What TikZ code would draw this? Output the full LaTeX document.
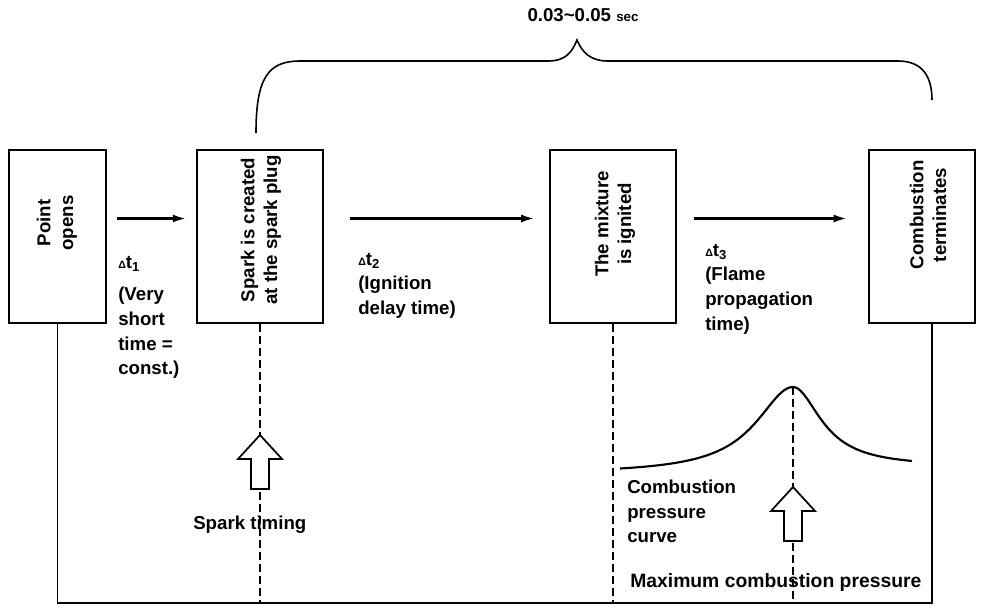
\documentclass[tikz,border=0pt]{standalone}
\usepackage{fontspec}
\setmainfont{Liberation Sans}
\usetikzlibrary{arrows.meta,calc}
\tikzset{
  >={Latex[length=10pt,width=6pt]},
  flow/.style={->,line width=1.8pt},
  procbox/.style={draw,line width=1.2pt,minimum width=94.5pt,minimum height=129.75pt,inner sep=0pt},
  boxtext/.style={rotate=90,align=center,font=\bfseries\fontsize{14}{17}\selectfont},
  note/.style={anchor=north west,align=left,inner sep=0pt,font=\bfseries\fontsize{14}{18.4}\selectfont},
  guide/.style={line width=1.2pt},
  markline/.style={line width=1pt,dash pattern=on 6pt off 3pt},
  hollow/.style={draw,fill=white,line width=1.3pt,line join=miter},
  hollowup/.pic={\draw[hollow] (0,0) -- (22,24) -- (9,24) -- (9,54) -- (-9,54) -- (-9,24) -- (-22,24) -- cycle;}
}
\begin{document}
\begin{tikzpicture}[x=0.75pt,y=-0.75pt]
  \useasboundingbox (0,0) rectangle (986,608);
  % the four stages
  \node[procbox,minimum width=72.75pt] (po) at (57.5,236.5) {};
  \node[procbox] (sp) at (260,236.5) {};
  \node[procbox] (mx) at (613,236.5) {};
  \node[procbox,minimum width=79.5pt] (ce) at (922,236.5) {};
  \node[boxtext] (po-txt) at (57,223) {Point\\opens};
  \node[boxtext] (sp-txt) at (261,230) {Spark is created\\at the spark plug};
  \node[boxtext] (mx-txt) at (615,224) {The mixture\\is ignited};
  \node[boxtext] (ce-txt) at (928,215) {Combustion\\terminates};
  % time arrows
  \draw[flow,shorten <=7.5pt,shorten >=7.5pt] ($(po.east)+(0,-18)$) -- ($(sp.west)+(0,-18)$);
  \draw[flow,shorten <=20pt,shorten >=11pt] ($(sp.east)+(0,-18)$) -- ($(mx.west)+(0,-18)$);
  \draw[flow,shorten <=13pt,shorten >=16pt] ($(mx.east)+(0,-18)$) -- ($(ce.west)+(0,-18)$);
  \node[note] (dt1) at (118,256) {{\footnotesize Δ}t\textsubscript{1}\\[6pt](Very\\short\\time =\\const.)};
  \node[note] (dt2) at (358,253) {{\footnotesize Δ}t\textsubscript{2}\\(Ignition\\delay time)};
  \node[note] (dt3) at (705,244) {{\footnotesize Δ}t\textsubscript{3}\\(Flame\\propagation\\time)};
  % brace over the ignition and combustion span
  \draw[line width=1.2pt] (256,133) .. controls (256,78) and (268,61) .. (300,61) -- (548,61)
    .. controls (566,61) and (572,52) .. (577,40) .. controls (582,52) and (590,61) .. (608,61)
    -- (898,61) .. controls (922,61) and (932,76) .. (932,100);
  \node[font=\bfseries\fontsize{14}{16}\selectfont] (span) at (583,15) {0.03\textasciitilde 0.05 {\fontsize{10}{12}\selectfont sec}};
  % base lines
  \coordinate (base) at (0,603);
  \coordinate (ceb) at ($(ce.south)+(10,0)$);
  \draw[guide] (po.south) -- (po.south |- base) -- (ceb |- base) -- (ceb);
  \draw[markline] (sp.south) -- (sp.south |- base);
  \draw[markline] (mx.south) -- (mx.south |- base);
  % pressure curve
  \coordinate (peak) at (793,387);
  \draw[markline] (peak) -- (peak |- base);
  \draw[line width=1.6pt,line join=round] plot[domain=620:793,samples=60] (\x,{474-87/(1+((\x-793)/45)^2)})
    -- plot[domain=793:912,samples=50] (\x,{467-80/(1+((\x-793)/34)^2)});
  \pic at (sp.south |- 0,435) {hollowup};
  \pic at (peak |- 0,487) {hollowup};
  \node[anchor=west,inner sep=0pt,font=\bfseries\fontsize{14}{17}\selectfont] (st) at (193,525) {Spark timing};
  \node[note] (pc) at (627,480) {Combustion\\pressure\\curve};
  \node[anchor=west,inner sep=0pt,font=\bfseries\fontsize{14.5}{17}\selectfont] (mp) at (630,582) {Maximum combustion pressure};
\end{tikzpicture}
\end{document}
